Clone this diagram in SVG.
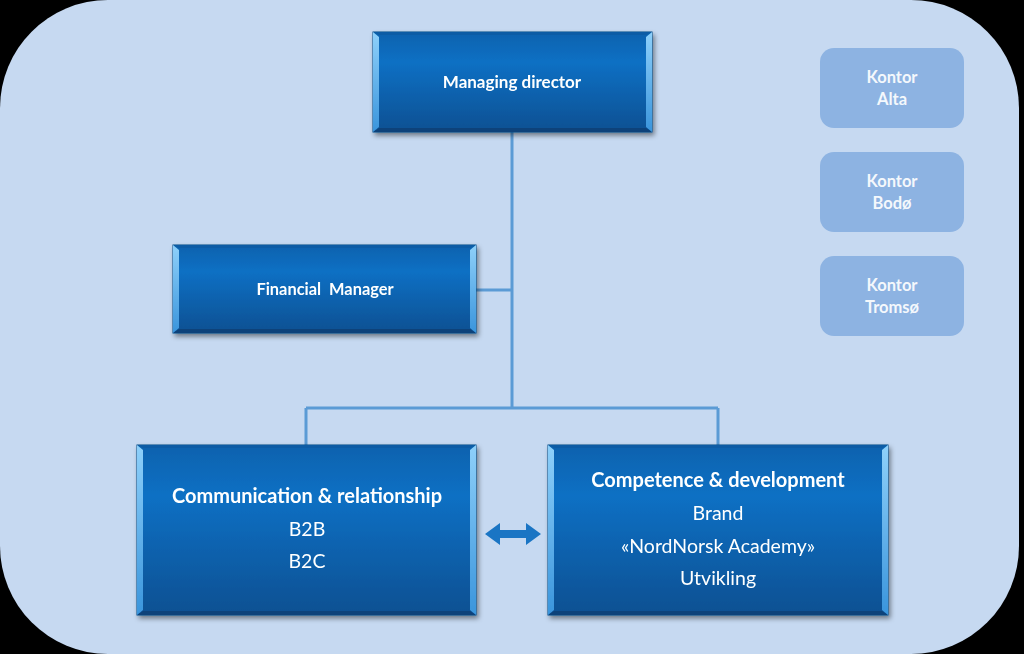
<svg xmlns="http://www.w3.org/2000/svg" width="1024" height="654" viewBox="0 0 1024 654">
<defs>
<linearGradient id="face" x1="0" y1="0" x2="0" y2="1">
<stop offset="0" stop-color="#0A62AE"/>
<stop offset="0.3" stop-color="#0870C4"/>
<stop offset="1" stop-color="#0C5092"/>
</linearGradient>
<linearGradient id="side" x1="0" y1="0" x2="0" y2="1">
<stop offset="0" stop-color="#8ED0FA"/>
<stop offset="1" stop-color="#3A95DC"/>
</linearGradient>
<filter id="sh" x="-10%" y="-10%" width="120%" height="130%">
<feDropShadow dx="2" dy="3" stdDeviation="2.5" flood-color="#000" flood-opacity="0.45"/>
</filter>
<style>
.face{fill:url(#face);stroke:#0B4A85;stroke-width:1}
.side{fill:url(#side)}
.top{fill:#0D5CA5}
.bot{fill:#08427A}
.t{font-family:Lato,"Open Sans","Liberation Sans",sans-serif;fill:#FFFFFF;text-anchor:middle}
.b{font-weight:bold}
.office rect{fill:#8DB3E2}
.office text{font-family:Lato,"Open Sans","Liberation Sans",sans-serif;font-weight:bold;font-size:16.5px;fill:#F4F8FC;text-anchor:middle}
.conn{stroke:#5B9BD5;stroke-width:3;fill:none}
</style>
</defs>
<rect x="0" y="0" width="1024" height="654" fill="#000"/>
<rect x="0" y="0" width="1019" height="654" rx="108" ry="108" fill="#C6D9F1"/>

<g id="connectors">
<path class="conn" d="M512 132 V408 M476 290 H512 M306 408 H718 M306 408 V445 M718 408 V445"/>
<polygon points="485,534 500,523 500,530 526,530 526,523 541,534 526,545 526,538 500,538 500,545" fill="#1A75C4"/>
</g>

<g id="managing-director" filter="url(#sh)">
<rect class="face" x="373" y="32" width="279" height="100"/>
<polygon class="top" points="373,32 652,32 646,35 379,35"/>
<polygon class="bot" points="373,132 652,132 646,128 379,128"/>
<polygon class="side" points="373,32 379,37 379,127 373,132"/>
<polygon class="side" points="652,32 646,37 646,127 652,132"/>
<text class="t b" x="512" y="88" font-size="17">Managing director</text>
</g>

<g id="financial-manager" filter="url(#sh)">
<rect class="face" x="173" y="245" width="303" height="88"/>
<polygon class="top" points="173,245 476,245 470,248 179,248"/>
<polygon class="bot" points="173,333 476,333 470,329 179,329"/>
<polygon class="side" points="173,245 179,250 179,328 173,333"/>
<polygon class="side" points="476,245 470,250 470,328 476,333"/>
<text class="t b" x="325" y="295" font-size="16.4" xml:space="preserve">Financial  Manager</text>
</g>

<g id="communication" filter="url(#sh)">
<rect class="face" x="137" y="445" width="339" height="170"/>
<polygon class="top" points="137,445 476,445 470,448 143,448"/>
<polygon class="bot" points="137,615 476,615 470,611 143,611"/>
<polygon class="side" points="137,445 143,450 143,610 137,615"/>
<polygon class="side" points="476,445 470,450 470,610 476,615"/>
<text class="t b" x="307" y="503" font-size="20">Communication &amp; relationship</text>
<text class="t" x="307" y="536" font-size="19.5">B2B</text>
<text class="t" x="307" y="568" font-size="19.5">B2C</text>
</g>

<g id="competence" filter="url(#sh)">
<rect class="face" x="548" y="445" width="340" height="170"/>
<polygon class="top" points="548,445 888,445 882,448 554,448"/>
<polygon class="bot" points="548,615 888,615 882,611 554,611"/>
<polygon class="side" points="548,445 554,450 554,610 548,615"/>
<polygon class="side" points="888,445 882,450 882,610 888,615"/>
<text class="t b" x="718" y="487" font-size="20">Competence &amp; development</text>
<text class="t" x="718" y="520" font-size="19.5">Brand</text>
<text class="t" x="718" y="553" font-size="19.5">«NordNorsk Academy»</text>
<text class="t" x="718" y="585" font-size="19.5">Utvikling</text>
</g>

<g id="kontor-alta" class="office">
<rect x="820" y="48" width="144" height="80" rx="14"/>
<text x="892" y="83">Kontor</text>
<text x="892" y="105">Alta</text>
</g>
<g id="kontor-bodo" class="office">
<rect x="820" y="152" width="144" height="80" rx="14"/>
<text x="892" y="187">Kontor</text>
<text x="892" y="209">Bodø</text>
</g>
<g id="kontor-tromso" class="office">
<rect x="820" y="256" width="144" height="80" rx="14"/>
<text x="892" y="291">Kontor</text>
<text x="892" y="313">Tromsø</text>
</g>
</svg>
